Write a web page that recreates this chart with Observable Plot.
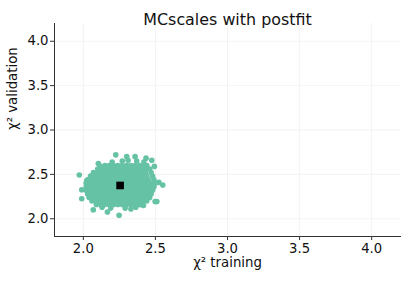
<!DOCTYPE html>
<html>
<head>
<meta charset="utf-8">
<script src="https://cdn.jsdelivr.net/npm/d3@7"></script>
<script src="https://cdn.jsdelivr.net/npm/@observablehq/plot@0.6"></script>
<style>
  html, body { margin: 0; padding: 0; background: #fff; }
  #chart { width: 407px; height: 281px; }
</style>
</head>
<body>
<div id="chart"></div>
<script>
// Title and axis labels
const title = "MCscales with postfit";
const xLabel = "χ² training";
const yLabel = "χ² validation";
const xTicks = [2.0, 2.5, 3.0, 3.5, 4.0];
const yTicks = [2.0, 2.5, 3.0, 3.5, 4.0];

// Replica cloud, row by row (χ² validation per row, χ² training values in that row)
const rowValidation = [2.60, 2.56, 2.52, 2.48, 2.44, 2.40, 2.36, 2.32, 2.28, 2.24, 2.20, 2.16];
const rowTraining = [
  [2.15, 2.18, 2.21, 2.24, 2.27, 2.30, 2.33, 2.36, 2.39, 2.42, 2.44],
  [2.10, 2.13, 2.16, 2.19, 2.22, 2.25, 2.28, 2.31, 2.34, 2.37, 2.40, 2.43, 2.46],
  [2.07, 2.10, 2.13, 2.16, 2.19, 2.22, 2.25, 2.28, 2.31, 2.34, 2.37, 2.40, 2.43, 2.47],
  [2.05, 2.08, 2.11, 2.14, 2.17, 2.20, 2.23, 2.26, 2.29, 2.32, 2.35, 2.38, 2.41, 2.44, 2.48],
  [2.03, 2.06, 2.09, 2.12, 2.15, 2.18, 2.21, 2.24, 2.27, 2.30, 2.33, 2.36, 2.39, 2.42, 2.45, 2.49],
  [2.02, 2.05, 2.08, 2.11, 2.14, 2.17, 2.20, 2.23, 2.26, 2.29, 2.32, 2.35, 2.38, 2.41, 2.44, 2.47, 2.50],
  [2.02, 2.05, 2.08, 2.11, 2.14, 2.17, 2.20, 2.23, 2.26, 2.29, 2.32, 2.35, 2.38, 2.41, 2.44, 2.47, 2.49],
  [2.02, 2.05, 2.08, 2.11, 2.14, 2.17, 2.20, 2.23, 2.26, 2.29, 2.32, 2.35, 2.38, 2.41, 2.44, 2.46, 2.48],
  [2.03, 2.06, 2.09, 2.12, 2.15, 2.18, 2.21, 2.24, 2.27, 2.30, 2.33, 2.36, 2.39, 2.42, 2.45, 2.47],
  [2.04, 2.07, 2.10, 2.13, 2.16, 2.19, 2.22, 2.25, 2.28, 2.31, 2.34, 2.37, 2.40, 2.43, 2.46],
  [2.06, 2.09, 2.12, 2.15, 2.18, 2.21, 2.24, 2.27, 2.30, 2.33, 2.36, 2.39, 2.42, 2.44],
  [2.09, 2.12, 2.15, 2.18, 2.21, 2.24, 2.27, 2.30, 2.33, 2.36, 2.39, 2.40]
];

// Edge and outlying replicas
const edgeTraining   = [2.225, 1.972, 2.104, 2.301, 2.359, 2.435, 2.475, 2.493, 2.524, 2.551, 2.510, 2.417, 2.364, 2.248, 2.167, 2.069, 1.989, 1.989, 2.024, 2.20, 2.27, 2.31, 2.37, 2.42, 2.12, 2.498, 2.19, 2.29, 2.13, 2.33];
const edgeValidation = [2.720, 2.493, 2.623, 2.700, 2.700, 2.683, 2.660, 2.590, 2.410, 2.380, 2.195, 2.150, 2.130, 2.040, 2.076, 2.100, 2.225, 2.326, 2.430, 2.64, 2.65, 2.66, 2.65, 2.64, 2.59, 2.195, 2.12, 2.12, 2.13, 2.11];

// Central value
const centralTraining = 2.255;
const centralValidation = 2.375;

const replicas = [];
rowValidation.forEach((v, i) => rowTraining[i].forEach(t => replicas.push({t, v})));
edgeTraining.forEach((t, i) => replicas.push({t, v: edgeValidation[i]}));
const central = [{t: centralTraining, v: centralValidation}];

const font = "DejaVu Sans, sans-serif";

const chart = Plot.plot({
  width: 407,
  height: 281,
  marginLeft: 54,
  marginRight: 7,
  marginTop: 23,
  marginBottom: 45,
  style: {fontFamily: font, fontSize: "13px", background: "#fff", color: "#222"},
  x: {domain: [1.8, 4.2], label: null},
  y: {domain: [1.8, 4.2], label: null},
  marks: [
    Plot.gridX(xTicks, {stroke: "#e6e6e6", strokeOpacity: 0.6, strokeWidth: 0.8}),
    Plot.gridY(yTicks, {stroke: "#e6e6e6", strokeOpacity: 0.6, strokeWidth: 0.8}),
    Plot.axisX(xTicks, {tickFormat: d3.format(".1f"), tickSize: 4, tickPadding: 3, fontSize: 13.2, label: null, stroke: "#333", fill: "#111"}),
    Plot.axisY(yTicks, {tickFormat: d3.format(".1f"), tickSize: 4, tickPadding: 2, fontSize: 13.2, label: null, stroke: "#333", fill: "#111"}),
    Plot.frame({anchor: "left", stroke: "#333", strokeWidth: 1}),
    Plot.frame({anchor: "bottom", stroke: "#333", strokeWidth: 1}),
    Plot.dot(replicas, {x: "t", y: "v", r: 2.8, fill: "#66c2a5", stroke: "none"}),
    Plot.dot(central, {x: "t", y: "v", symbol: "square", r: 4.3, fill: "#000", stroke: "none"}),
    Plot.text([title], {frameAnchor: "top", dy: -10, fontSize: 15.9, fill: "#111"}),
    Plot.text([xLabel], {frameAnchor: "bottom", dy: 30, fontSize: 13.3, fill: "#111"}),
    Plot.text([yLabel], {frameAnchor: "left", dx: -41.5, rotate: -90, fontSize: 13.3, fill: "#111"})
  ]
});
document.getElementById("chart").appendChild(chart);
</script>
</body>
</html>
